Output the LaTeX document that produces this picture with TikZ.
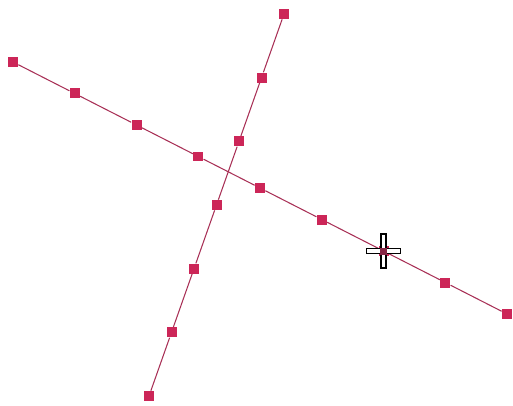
\documentclass[tikz,border=0pt]{standalone}
\definecolor{marca}{RGB}{204,38,88}
\definecolor{linea}{RGB}{168,48,86}
\begin{document}
\begin{tikzpicture}[x=0.02cm, y=-0.02cm,
  punto/.style={rectangle, fill=marca, inner sep=0pt, minimum size=0.2cm},
  recta/.style={linea, line width=0.6pt}]
\useasboundingbox (0,0) rectangle (513,405);
% recta A (9 puntos)
\foreach \i in {0,...,8}
  \node[punto] (a\i) at ({13+61.75*\i},{62+31.5*\i}) {};
% recta B (7 puntos)
\foreach \i in {0,...,6}
  \node[punto] (b\i) at ({284-22.5*\i},{14+63.67*\i}) {};
% segmentos
\foreach \i [count=\j] in {0,...,7}
  \draw[recta] (a\i) -- (a\j);
\foreach \i [count=\j] in {0,...,5}
  \draw[recta] (b\i) -- (b\j);
% cursor
\begin{scope}[shift={(a6)}]
\draw[fill=white, line width=0.9pt] (-17,-2.5) -- (-2.5,-2.5) -- (-2.5,-17) -- (2.5,-17) -- (2.5,-2.5) -- (17,-2.5) -- (17,2.5) -- (2.5,2.5) -- (2.5,17) -- (-2.5,17) -- (-2.5,2.5) -- (-17,2.5) -- cycle;
\fill[linea!80!black] (-3.5,-3.5) rectangle (3.5,3.5);
\end{scope}
\end{tikzpicture}
\end{document}
